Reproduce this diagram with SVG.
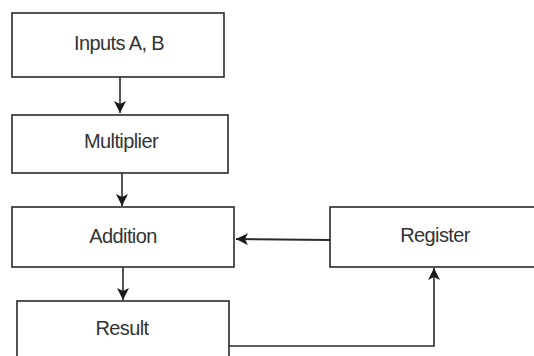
<svg xmlns="http://www.w3.org/2000/svg" width="534" height="356" viewBox="0 0 534 356">
<style>
.box{fill:#fff;stroke:#2a2a2a;stroke-width:1.6}
.lbl{font-family:"Liberation Sans",Arial,sans-serif;font-size:20px;fill:#333;text-anchor:middle;letter-spacing:-0.6px}
.con{fill:none;stroke:#2a2a2a;stroke-width:1.6}
</style>
<defs>
<marker id="ah" viewBox="0 0 12 12" refX="12" refY="6" markerWidth="12" markerHeight="12" markerUnits="userSpaceOnUse" orient="auto">
<path d="M0,0 L12,6 L0,12 L3,6 Z" fill="#1a1a1a"/>
</marker>
</defs>
<rect width="534" height="356" fill="#fff"/>
<g id="inputs">
<rect class="box" x="12" y="13" width="212" height="64"/>
<text class="lbl" x="119" y="50">Inputs A, B</text>
</g>
<g id="multiplier">
<rect class="box" x="12" y="115" width="216" height="58"/>
<text class="lbl" x="121" y="148">Multiplier</text>
</g>
<g id="addition">
<rect class="box" x="12" y="207" width="222" height="60"/>
<text class="lbl" x="123" y="243">Addition</text>
</g>
<g id="result">
<rect class="box" x="17" y="301" width="212" height="70"/>
<text class="lbl" x="122" y="335">Result</text>
</g>
<g id="register">
<rect class="box" x="330" y="207" width="220" height="60"/>
<text class="lbl" x="435" y="242">Register</text>
</g>
<g id="connectors">
<line class="con" x1="120" y1="77" x2="120" y2="113" marker-end="url(#ah)"/>
<line class="con" x1="122" y1="173" x2="122" y2="206" marker-end="url(#ah)"/>
<line class="con" x1="123" y1="267" x2="123" y2="300" marker-end="url(#ah)"/>
<line class="con" x1="330" y1="240" x2="236" y2="239" marker-end="url(#ah)" style="stroke-width:2"/>
<polyline class="con" points="229,346 434,346 434,268" marker-end="url(#ah)"/>
</g>
</svg>
